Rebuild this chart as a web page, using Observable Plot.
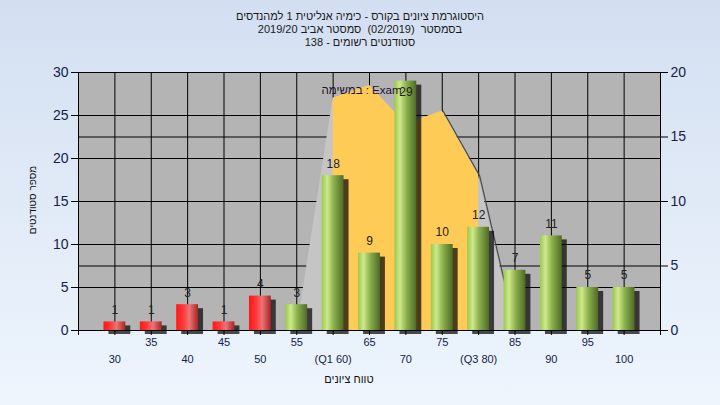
<!DOCTYPE html>
<html>
<head>
<meta charset="utf-8">
<script src="https://cdn.jsdelivr.net/npm/d3@7"></script>
<script src="https://cdn.jsdelivr.net/npm/@observablehq/plot@0.6"></script>
<style>
html, body { margin: 0; padding: 0; }
body {
  width: 720px; height: 405px; overflow: hidden; position: relative;
  background: linear-gradient(to bottom, #d3dff1 0%, #eef5fd 100%);
  font-family: "Liberation Sans", Arial, sans-serif;
}
#chart { position: absolute; left: 0; top: 0; }
#title {
  position: absolute; left: 0; top: 10px; width: 720px; text-align: center;
  font-size: 11px; line-height: 13px; color: #1a1a1a; direction: rtl; white-space: pre;
}
#xlabel {
  position: absolute; left: 249px; top: 373px; width: 200px; text-align: center;
  font-size: 11px; color: #111; direction: rtl;
}
#ylabel {
  position: absolute; left: -67px; top: 193px; width: 200px; height: 14px; text-align: center;
  font-size: 10px; line-height: 14px; color: #111; direction: rtl; transform: rotate(-90deg);
}
</style>
</head>
<body>
<div id="chart"></div>
<div id="title"></div>
<div id="xlabel"></div>
<div id="ylabel"></div>
<script>
// ---- data ----
const titleLines = [
  "היסטוגרמת ציונים בקורס - כימיה אנליטית 1 למהנדסים",
  "בסמסטר  (02/2019)  סמסטר אביב 2019/20",
  "סטודנטים רשומים - 138"
];
const xTitle = "טווח ציונים";
const yTitle = "מספר סטודנטים";
const examLabel = "במשימה : Exam";

const bins = [30, 35, 40, 45, 50, 55, 60, 65, 70, 75, 80, 85, 90, 95, 100];
const counts = [1, 1, 3, 1, 4, 3, 18, 9, 29, 10, 12, 7, 11, 5, 5];
const tickLabels = ["30", "35", "40", "45", "50", "55", "(Q1 60)", "65", "70", "75", "(Q3 80)", "85", "90", "95", "100"];

const leftTicks = [0, 5, 10, 15, 20, 25, 30];
const rightTicks = [0, 5, 10, 15, 20];
const leftMax = 30, rightMax = 20;

// distribution curve (right axis units)
const curveX = [55, 60, 65, 70, 75, 80, 85];
const curveRight = [0, 18, 19, 16, 17, 12, 0];
const q1 = 60, q3 = 80;
const passMark = 55;
const edgeFrom = 75;

// ---- derived ----
const toLeft = v => v * leftMax / rightMax;
const halfW = 1.5;
const bars = bins.map((b, i) => ({bin: b, count: counts[i], label: tickLabels[i], row: i % 2}));
const curve = curveX.map((x, i) => ({x, v: toLeft(curveRight[i])}));
const iqr = curve.filter(d => d.x >= q1 && d.x <= q3);
const edge = curve.filter(d => d.x >= edgeFrom);
const gridY = [...new Set([...leftTicks, ...rightTicks.map(toLeft)])].filter(v => v > 0 && v < leftMax);
const peakX = d3.greatest(curve, d => d.v).x;
const xDomain = [bins[0] - 5, bins[bins.length - 1] + 5];
const lowBars = bars.filter(d => d.bin < passMark);
const highBars = bars.filter(d => d.bin >= passMark);

const chart = Plot.plot({
  width: 720, height: 405,
  marginLeft: 78, marginRight: 60, marginTop: 72, marginBottom: 75,
  x: {domain: xDomain, label: null},
  y: {domain: [0, leftMax], label: null},
  style: {background: "transparent", fontFamily: "Liberation Sans, Arial, sans-serif", color: "#000"},
  marks: [
    Plot.frame({fill: "#b4b4b4"}),
    Plot.ruleY(gridY, {stroke: "#000", strokeWidth: 1}),
    Plot.ruleX(bins, {stroke: "#000", strokeWidth: 1}),
    Plot.areaY(curve, {x: "x", y: "v", fill: "#c5c5c5", curve: "linear"}),
    Plot.areaY(iqr, {x: "x", y: "v", fill: "#ffcb57", curve: "linear"}),
    Plot.line(edge, {x: "x", y: "v", stroke: "#4a4a4a", strokeWidth: 1.2, dx: 1}),
    Plot.rectY(bars, {x1: d => d.bin - halfW, x2: d => d.bin + halfW, y: "count", fill: "#000", fillOpacity: 0.7, dx: 5, dy: 4, ariaLabel: "shadow"}),
    Plot.rectY(lowBars, {x1: d => d.bin - halfW, x2: d => d.bin + halfW, y: "count", fill: "url(#gRed)"}),
    Plot.rectY(highBars, {x1: d => d.bin - halfW, x2: d => d.bin + halfW, y: "count", fill: "url(#gGreen)"}),
    Plot.text([examLabel], {x: peakX, frameAnchor: "top", dy: 13, dx: -8, text: d => d, fontSize: 11.5, fill: "#1e1030"}),
    Plot.text(bars.filter(d => d.count < leftMax - 2), {x: "bin", y: "count", dy: -12, text: d => String(d.count), fontSize: 12, fill: "#222"}),
    Plot.text(bars.filter(d => d.count >= leftMax - 2), {x: "bin", frameAnchor: "top", dy: 15, text: d => String(d.count), fontSize: 12, fill: "#222"}),
    Plot.frame({stroke: "#000", strokeWidth: 1}),
    Plot.axisY(leftTicks, {anchor: "left", tickSize: 7, tickPadding: 3, fontSize: 14, label: null, fill: "#14224a", stroke: "#000"}),
    Plot.axisY(rightTicks.map(toLeft), {anchor: "right", tickSize: 7, tickPadding: 3, fontSize: 14, label: null, tickFormat: d => String(d * rightMax / leftMax), fill: "#14224a", stroke: "#000"}),
    Plot.axisX([xDomain[0], ...bins, xDomain[1]], {anchor: "bottom", tickSize: 5, tickFormat: () => "", label: null, stroke: "#000"}),
    Plot.text(bars.filter(d => d.row === 1), {x: "bin", frameAnchor: "bottom", dy: 15, text: "label", fontSize: 11, fill: "#14224a"}),
    Plot.text(bars.filter(d => d.row === 0), {x: "bin", frameAnchor: "bottom", dy: 32, text: "label", fontSize: 11, fill: "#14224a"})
  ]
});

const svg = d3.select(chart);
const defs = svg.insert("defs", ":first-child");
function grad(id, stops) {
  const g = defs.append("linearGradient").attr("id", id).attr("x1", "0").attr("x2", "1").attr("y1", "0").attr("y2", "0");
  stops.forEach(([o, c]) => g.append("stop").attr("offset", o).attr("stop-color", c));
}
grad("gRed", [[0, "#ff1818"], [0.35, "#ff3c3c"], [0.6, "#ee7474"], [1, "#a82424"]]);
grad("gGreen", [[0, "#9cc84a"], [0.25, "#cde98c"], [0.55, "#8cb04c"], [1, "#4e6b26"]]);
const f = defs.append("filter").attr("id", "blur").attr("x", "-20%").attr("y", "-20%").attr("width", "140%").attr("height", "140%");
f.append("feGaussianBlur").attr("stdDeviation", 2.4);
svg.selectAll('g[aria-label="shadow"]').attr("filter", "url(#blur)");

document.getElementById("chart").appendChild(chart);
document.getElementById("title").textContent = titleLines.join("\n");
document.getElementById("xlabel").textContent = xTitle;
document.getElementById("ylabel").textContent = yTitle;
</script>
</body>
</html>
